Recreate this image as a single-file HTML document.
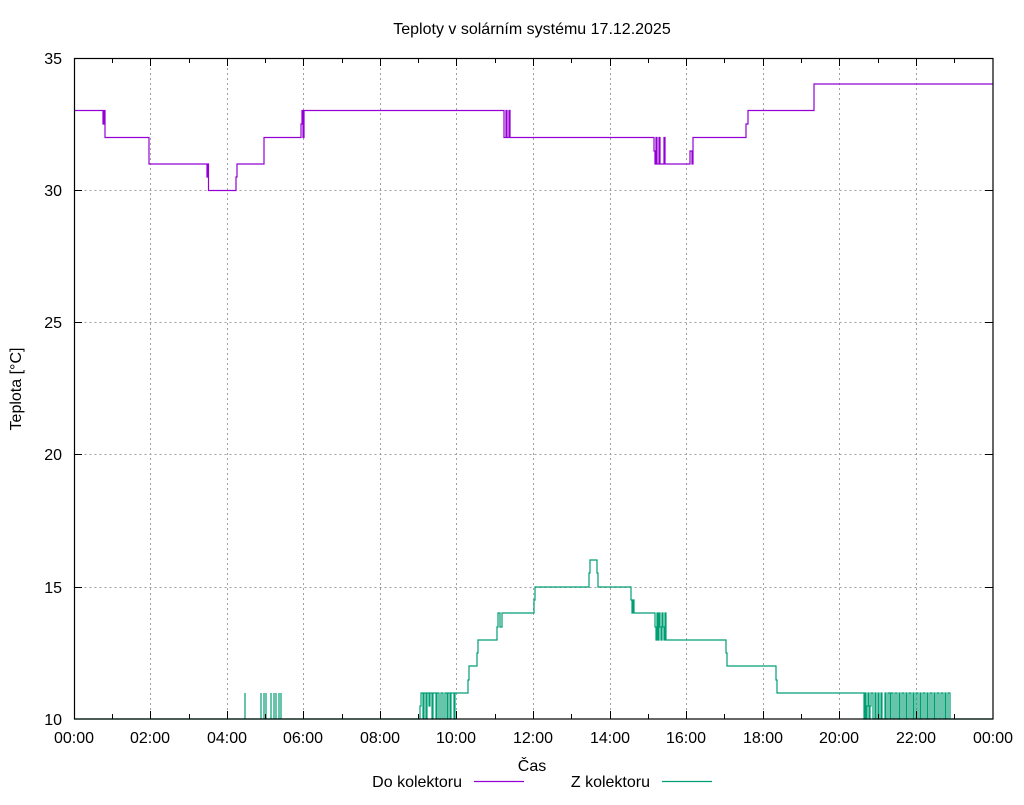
<!DOCTYPE html>
<html><head><meta charset="utf-8"><style>
body{margin:0;background:#fff;}
svg text{font-family:"Liberation Sans",sans-serif;font-size:16px;fill:#000;}
</style></head><body>
<svg width="1024" height="800" viewBox="0 0 1024 800" xmlns="http://www.w3.org/2000/svg">
<rect width="1024" height="800" fill="#fff"/>
<g stroke="#a0a0a0" stroke-dasharray="2,3" stroke-width="1">
<path d="M74.5 587.5H993M74.5 454.5H993M74.5 322.5H993M74.5 190.5H993"/>
<path d="M150.5 58V719M227.5 58V719M303.5 58V719M380.5 58V719M456.5 58V719M533.5 58V719M610.5 58V719M686.5 58V719M763.5 58V719M839.5 58V719M916.5 58V719"/>
</g>
<path fill="none" stroke="#9400d3" stroke-width="1.2" d="M74 110.5H103V124H104V110.5H105V137.5H149V164H207V177H208V164H208.5V190.5H236V177H237V164H264V137.5H301V124H302V110.5H303V137.5H304V110.5H504V137.5H506V110.5H507V137.5H509V110.5H510V137.5H654V151H655V164H656V137.5H657V164H659V137.5H660V164H664V137.5H665V164H690V151H692V164H693V137.5H746V124H748V110.5H814V84H993"/>
<path fill="none" stroke="#009e73" stroke-width="1.2" d="M74 719H245V693V719H261V693V719H264V693V719H266V693V719H271V693V719H274V693V719H276V693V719H279V693V719H281V693V719H420V706H421V693H423V719H424V693H426V719H427V693H429V706H430V693H432V719H433V693H436V719H437V693H439V719H441V693H443V719H445V693H447V719H448V693H450V719H451V693H454V719H455V693H468V680H469V666H477V653H478V640H497V627H498V613H500V627H502V613H534V600H535V587H589V573H590V560H597V573H598V587H631V600H632V613H633V600H634V613H655V627H656V640H657V613H658V640H659V613H660V627H661V640H662V613H663V627H664V640H665V613H666V640H726V653H727V666H776V680H777V693H864V719H865V693H866V719H867V706H868V693H869V719H870V706H871V693H873V719H875V693H876V719H878V693H879V719H881V693H882V719H885V693H886V719H888V693H890V719H891V693H893V719H895V693H897V719H899V693H900V719H902V693H904V719H906V693H907V719H909V693H911V719H913V693H914V719H916V693H918V719H920V693H921V719H923V693H925V719H927V693H928V719H930V693H932V719H934V693H935V719H937V693H939V719H941V693H943V719H945V693H946V719H948V693H950V719H993"/>
<rect x="74.5" y="58.5" width="918.5" height="660.5" fill="none" stroke="#000" stroke-width="1.2"/>
<g stroke="#000" stroke-width="1">
<path d="M74 587.5h8M74 454.5h8M74 322.5h8M74 190.5h8M985 587.5h8M985 454.5h8M985 322.5h8M985 190.5h8M985 58.5h8M74 58.5h8"/>
<path d="M112.5 719v-5M150.5 719v-8M189.5 719v-5M227.5 719v-8M265.5 719v-5M303.5 719v-8M342.5 719v-5M380.5 719v-8M418.5 719v-5M456.5 719v-8M495.5 719v-5M533.5 719v-8M571.5 719v-5M610.5 719v-8M648.5 719v-5M686.5 719v-8M724.5 719v-5M763.5 719v-8M801.5 719v-5M839.5 719v-8M878.5 719v-5M916.5 719v-8M954.5 719v-5"/>
<path d="M112.5 58v5M150.5 58v8M189.5 58v5M227.5 58v8M265.5 58v5M303.5 58v8M342.5 58v5M380.5 58v8M418.5 58v5M456.5 58v8M495.5 58v5M533.5 58v8M571.5 58v5M610.5 58v8M648.5 58v5M686.5 58v8M724.5 58v5M763.5 58v8M801.5 58v5M839.5 58v8M878.5 58v5M916.5 58v8M954.5 58v5"/>
</g>
<text x="532" y="34" text-anchor="middle">Teploty v solárním systému 17.12.2025</text>
<g text-anchor="end">
<text x="62" y="64">35</text><text x="62" y="196">30</text><text x="62" y="328">25</text><text x="62" y="460">20</text><text x="62" y="593">15</text><text x="62" y="725">10</text>
</g>
<g text-anchor="middle">
<text x="74" y="743">00:00</text><text x="150" y="743">02:00</text><text x="227" y="743">04:00</text><text x="303" y="743">06:00</text><text x="380" y="743">08:00</text><text x="456" y="743">10:00</text><text x="533" y="743">12:00</text><text x="610" y="743">14:00</text><text x="686" y="743">16:00</text><text x="763" y="743">18:00</text><text x="839" y="743">20:00</text><text x="916" y="743">22:00</text><text x="993" y="743">00:00</text>
<text x="532" y="771">Čas</text>
</g>
<text transform="translate(21,389) rotate(-90)" text-anchor="middle">Teplota [°C]</text>
<text x="462" y="787" text-anchor="end">Do kolektoru</text>
<path d="M474 781.5H524" stroke="#9400d3" stroke-width="1.2"/>
<text x="650" y="787" text-anchor="end">Z kolektoru</text>
<path d="M662 781.5H712" stroke="#009e73" stroke-width="1.2"/>
</svg>
</body></html>
